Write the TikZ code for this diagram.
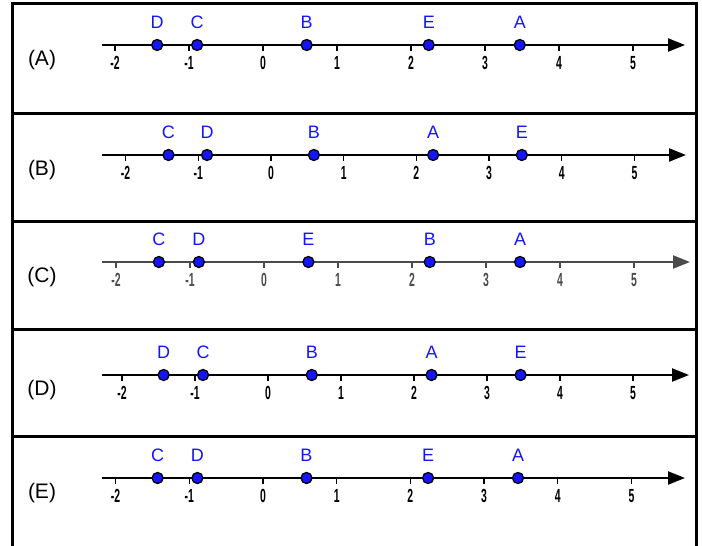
\documentclass[tikz,border=0pt]{standalone}
\usepackage{fontspec}
\setmainfont{Liberation Sans}
\usetikzlibrary{arrows.meta, positioning}
\definecolor{ptblue}{RGB}{20,20,255}
\definecolor{dimgray}{RGB}{75,75,75}
\tikzset{
	frameline/.style={line width=3pt},
	axisline/.style={line width=2.2pt, -{Triangle[length=17pt,width=13pt]}},
	tickmark/.style={line width=1.3pt},
	ticklabel/.style={font=\fontsize{19}{19}\selectfont\bfseries, xscale=0.55, inner sep=0pt},
	ptdot/.style={circle, draw=black, fill=ptblue, line width=1.3pt, minimum size=11pt, inner sep=0pt},
	ptlabel/.style={font=\fontsize{18}{18}\selectfont, text=ptblue, inner sep=0pt},
	rowlabel/.style={font=\fontsize{21}{21}\selectfont, text=black, inner sep=0pt}
}
% #1 row, #2 axis y, #3 x of zero, #4 unit, #5 arrow end, #6 points, #7 line colour
\newcommand{\axisrow}[7]{%
	\begin{scope}[shift={(0,#2)}]
		\node[rowlabel] (row#1) at (42,15) {(#1)};
		\coordinate (ax#1s) at (102,0);
		\coordinate (ax#1e) at (#5,0);
		\draw[axisline, #7] (ax#1s) -- (ax#1e);
		\foreach \t in {-2,...,5}{
			\coordinate (tk#1\t) at ({#3+\t*#4},0);
			\draw[tickmark, #7] (tk#1\t) -- ++(0,6) coordinate (tb#1\t);
			\node[ticklabel, text=#7, below=5pt of tb#1\t] (tl#1\t) {\t};
		}
		\foreach \v/\p in {#6}{
			\node[ptdot] (pt#1\p) at ({#3+\v*#4},0) {};
			\node[ptlabel] (lb#1\p) at ({#3+\v*#4},-23) {\p};
		}
	\end{scope}}

\begin{document}
\begin{tikzpicture}[x=1pt, y=-1pt]
	\useasboundingbox (0,0) rectangle (702,546);
	% frame and row dividers
	\draw[frameline] (12,546) -- (12,3) -- (696,3) -- (696,546);
	\foreach \r in {113,221,329,436}
		\draw[frameline] (12,\r) -- (696,\r);
	% the five number lines
	\axisrow{A}{45}{263}{74}{685}{-1.43/D,-0.89/C,0.59/B,2.24/E,3.47/A}{black}
	\axisrow{B}{155}{271}{72.7}{686}{-1.41/C,-0.88/D,0.59/B,2.23/A,3.45/E}{black}
	\axisrow{C}{262}{264}{74}{690}{-1.42/C,-0.88/D,0.6/E,2.24/B,3.46/A}{dimgray}
	\axisrow{D}{375}{268}{73}{689}{-1.43/D,-0.89/C,0.6/B,2.24/A,3.46/E}{black}
	\axisrow{E}{478}{263}{73.7}{685}{-1.43/C,-0.89/D,0.59/B,2.24/E,3.46/A}{black}
\end{tikzpicture}
\end{document}
